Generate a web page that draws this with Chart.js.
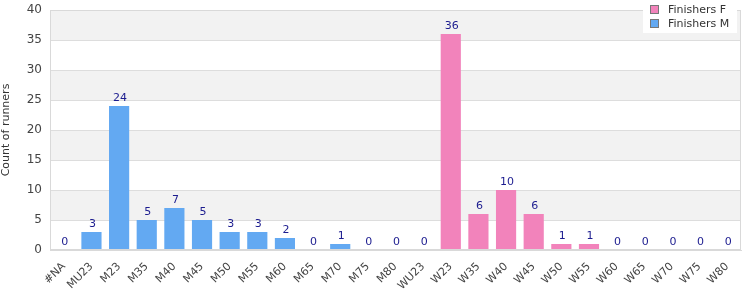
<!DOCTYPE html>
<html><head><meta charset="utf-8">
<script src="https://cdn.jsdelivr.net/npm/chart.js@4.4.0/dist/chart.umd.min.js"></script>
<style>html,body{margin:0;padding:0;background:#fff}#wrap{width:750px;height:300px;position:relative}</style>
</head><body><div id="wrap"><canvas id="c"></canvas></div>
<script>
const categories = ["#NA","MU23","M23","M35","M40","M45","M50","M55","M60","M65","M70","M75","M80","WU23","W23","W35","W40","W45","W50","W55","W60","W65","W70","W75","W80"];
const finishersF = [0,0,0,0,0,0,0,0,0,0,0,0,0,0,36,6,10,6,1,1,0,0,0,0,0];
const finishersM = [0,3,24,5,7,5,3,3,2,0,1,0,0,0,0,0,0,0,0,0,0,0,0,0,0];
const yTicks = [0,5,10,15,20,25,30,35,40];
const seriesNames = ["Finishers F","Finishers M"];
const colF = "#f283bb", colM = "#63a9f2";
const FONT = "DejaVu Sans";

const bgPlugin = {
  id:'bg',
  beforeDraw(chart){
    const {ctx, chartArea:a, scales:{y}} = chart;
    ctx.save();
    for (let i=0;i<yTicks.length-1;i++){
      if ((yTicks.length-2-i)%2===0){
        const t = y.getPixelForValue(yTicks[i+1]), b = y.getPixelForValue(yTicks[i]);
        ctx.fillStyle = '#f2f2f2';
        ctx.fillRect(a.left, t, a.right-a.left, b-t);
      }
    }
    ctx.restore();
  },
  afterDatasetsDraw(chart){
    const {ctx, scales:{x,y}} = chart;
    ctx.save();
    ctx.font = '11px "'+FONT+'"';
    ctx.fillStyle = '#1c1c8f';
    ctx.textAlign = 'center';
    ctx.textBaseline = 'bottom';
    categories.forEach((c,i)=>{
      const v = finishersF[i]+finishersM[i];
      ctx.fillText(String(v), x.getPixelForValue(i)+1, y.getPixelForValue(v)-2);
    });
    ctx.restore();
  },
  afterDraw(chart){
    const {ctx, chartArea:a} = chart;
    ctx.save();
    ctx.strokeStyle = '#d9d9d9'; ctx.lineWidth = 1;
    ctx.strokeRect(a.left+0.5, a.top+0.5, a.right-a.left-1, a.bottom-a.top-1);
    // legend
    ctx.fillStyle = '#fff';
    ctx.fillRect(643, 0, 94, 33);
    ctx.font = '11px "'+FONT+'"';
    ctx.textBaseline = 'middle'; ctx.textAlign='left';
    [[colF,seriesNames[0],9],[colM,seriesNames[1],23]].forEach(([col,name,yy])=>{
      ctx.fillStyle = col;
      ctx.fillRect(650.5, yy-3.5, 8, 8);
      ctx.strokeStyle = '#777';
      ctx.strokeRect(650.5, yy-3.5, 8, 8);
      ctx.fillStyle = '#333';
      ctx.fillText(name, 668, yy+1);
    });
    ctx.restore();
  }
};

new Chart(document.getElementById('c'), {
  type:'bar',
  data:{
    labels:categories,
    datasets:[
      {label:seriesNames[0], data:finishersF, backgroundColor:colF, barPercentage:0.73, categoryPercentage:1},
      {label:seriesNames[1], data:finishersM, backgroundColor:colM, barPercentage:0.73, categoryPercentage:1}
    ]
  },
  options:{
    responsive:true, maintainAspectRatio:false, animation:false,
    layout:{padding:{top:10,right:9,left:0,bottom:0}},
    plugins:{legend:{display:false}, tooltip:{enabled:false}},
    scales:{
      x:{stacked:true, grid:{display:false}, border:{color:'#d9d9d9'},
         ticks:{color:'#444', font:{family:FONT,size:11}, minRotation:45, maxRotation:45, autoSkip:false, padding:2},
         afterFit(s){ s.height = 50; s.paddingLeft = 0; s.paddingRight = 0; }},
      y:{stacked:true, min:0, max:40, grid:{color:'#dddddd', drawTicks:false}, border:{color:'#d9d9d9'},
         ticks:{stepSize:5, color:'#444', font:{family:FONT,size:12}, padding:8},
         title:{display:true, text:'Count of runners', color:'#333', font:{family:FONT,size:11}, padding:{top:0,bottom:4}},
         afterFit(s){ s.width = 50; s.paddingTop = 0; s.paddingBottom = 0; }}
    }
  },
  plugins:[bgPlugin]
});
</script></body></html>
